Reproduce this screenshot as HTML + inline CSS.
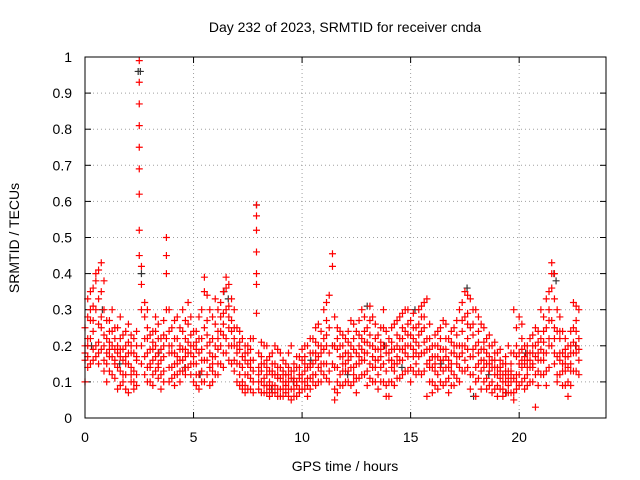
<!DOCTYPE html>
<html><head><meta charset="utf-8"><style>
body{margin:0;background:#fff;}
svg{display:block;font-family:"Liberation Sans",sans-serif;}
</style></head><body>
<svg id="c" width="640" height="480">
<text x="345" y="32" text-anchor="middle" font-size="14">Day 232 of 2023, SRMTID for receiver cnda</text>
<text x="345" y="471" text-anchor="middle" font-size="14">GPS time / hours</text>
<text transform="translate(19,238) rotate(-90)" text-anchor="middle" font-size="14">SRMTID / TECUs</text>
<g id="grid"></g>
<g id="ticks"></g>
<g id="black"></g>
<g id="red"></g>
<rect x="85" y="57" width="521" height="361" fill="none" stroke="#000"/>
</svg>
<script>
const xTicks=[0,5,10,15,20];
const yTicks=[0,0.1,0.2,0.3,0.4,0.5,0.6,0.7,0.8,0.9,1];
const yTickLabels=["0","0.1","0.2","0.3","0.4","0.5","0.6","0.7","0.8","0.9","1"];
const redT=[0,0.25,0.5,0.75,1,1.25,1.5,1.75,2,2.25,2.5,2.6,2.75,3,3.25,3.5,3.75,4,4.25,4.5,4.75,5,5.25,5.5,5.75,6,6.25,6.5,6.75,7,7.25,7.5,7.75,7.9,8,8.25,8.5,8.75,9,9.25,9.5,9.75,10,10.25,10.5,10.75,11,11.25,11.4,11.5,11.75,12,12.25,12.5,12.75,13,13.25,13.5,13.75,14,14.25,14.5,14.75,15,15.25,15.5,15.75,16,16.25,16.5,16.75,17,17.25,17.5,17.75,18,18.25,18.5,18.75,19,19.25,19.5,19.75,20,20.25,20.5,20.75,21,21.25,21.5,21.75,22,22.25,22.5,22.75];
const redV=[[.18,.2,.1,.16,.25],[.3,.35,.22,.15,.27],[.4,.38,.3,.2,.17],[.43,.35,.25,.19,.28],[.22,.15,.1,.27,.18],[.2,.12,.3,.17,.24],[.14,.08,.2,.25,.18],[.23,.16,.1,.12,.19],[.21,.07,.15,.26,.18],[.13,.18,.22,.1,.08],
[.99,.93,.87,.81,.75,.69,.62,.52,.45],[.42,.37,.3,.2,.15],[.28,.32,.17,.12,.22],[.19,.15,.23,.1,.14],[.2,.24,.13,.17,.28],[.16,.12,.22,.19,.08],[.5,.45,.4,.3,.22],[.25,.18,.14,.2,.11],[.17,.22,.15,.28,.12],[.3,.19,.13,.24,.16],[.32,.26,.18,.14,.21],[.2,.15,.1,.17,.24],[.28,.12,.18,.08,.22],[.39,.35,.25,.16,.1],[.3,.21,.14,.09,.18],[.26,.2,.12,.17,.33],[.32,.28,.24,.15,.2],[.39,.36,.3,.22,.18],[.33,.27,.2,.15,.24],[.25,.2,.15,.1,.18],[.22,.14,.1,.17,.08],[.18,.12,.08,.15,.2],[.16,.1,.07,.13,.22],[.59,.56,.52,.46,.4,.37,.29],[.18,.12,.08,.14,.1],[.2,.11,.07,.15,.09],[.13,.08,.1,.17,.06],[.15,.09,.12,.07,.2],[.11,.08,.14,.06,.18],[.12,.09,.15,.07,.1],[.2,.13,.08,.11,.05],[.1,.14,.06,.17,.09],[.16,.12,.08,.19,.1],[.2,.14,.09,.11,.06],[.18,.12,.22,.1,.15],[.26,.2,.14,.1,.17],[.3,.22,.15,.12,.19],[.34,.25,.18,.1,.13],[.455,.42,.2,.15],[.28,.2,.14,.08,.05],[.24,.17,.12,.09,.2],[.22,.15,.1,.18,.13],[.27,.2,.14,.09,.17],[.24,.18,.11,.15,.07],[.3,.22,.16,.12,.19],[.25,.18,.13,.09,.21],[.28,.2,.14,.1,.17],[.23,.16,.12,.08,.19],[.3,.2,.15,.1,.25],[.22,.16,.1,.06,.18],[.26,.19,.13,.09,.15],[.28,.22,.16,.11,.19],[.3,.24,.18,.13,.2],[.27,.2,.14,.1,.23],[.25,.18,.12,.15,.21],[.31,.24,.18,.12,.28],[.33,.22,.15,.06,.19],[.2,.14,.1,.07,.17],[.24,.17,.12,.08,.2],[.27,.19,.13,.09,.16],[.22,.16,.11,.14,.07],[.25,.18,.12,.09,.2],[.3,.2,.14,.1,.17],[.35,.28,.2,.13,.16],[.33,.25,.17,.12,.08],[.3,.2,.14,.1,.06],[.26,.19,.13,.08,.16],[.22,.15,.11,.08,.18],[.2,.14,.1,.07,.16],[.18,.12,.09,.06,.14],[.15,.1,.08,.12,.06],[.2,.13,.09,.07,.11],[.3,.18,.11,.07,.05],[.28,.18,.12,.09,.15],[.2,.15,.11,.17,.08],[.22,.18,.14,.1,.16],[.25,.17,.12,.03,.2],[.3,.22,.16,.12,.19],[.33,.25,.18,.13,.09],[.43,.4,.36,.27,.2],[.3,.24,.17,.12,.1],[.24,.18,.13,.09,.15],[.2,.14,.1,.06,.17],[.32,.25,.18,.13,.21],[.3,.22,.16,.12,.19]];
const redT2=[0.125,0.375,0.625,0.875,1.125,1.375,1.625,1.875,2.125,2.375,2.875,3.125,3.375,3.625,3.875,4.125,4.375,4.625,4.875,5.125,5.375,5.625,5.875,6.125,6.375,6.625,6.875,7.125,7.375,7.625,8.125,8.375,8.625,8.875,9.125,9.375,9.625,9.875,10.125,10.375,10.625,10.875,11.125,11.625,11.875,12.125,12.375,12.625,12.875,13.125,13.375,13.625,13.875,14.125,14.375,14.625,14.875,15.125,15.375,15.625,15.875,16.125,16.375,16.625,16.875,17.125,17.375,17.625,17.875,18.125,18.375,18.625,18.875,19.125,19.375,19.625,19.875,20.125,20.375,20.625,20.875,21.125,21.375,21.625,21.875,22.125,22.375,22.625];
const redV2=[[.28,.22,.17,.14,.33,.2],[.36,.31,.24,.19,.16,.27],[.41,.33,.26,.21,.15,.18],[.38,.3,.23,.2,.16,.13],[.27,.21,.17,.13,.24,.19],[.25,.19,.15,.11,.22,.16],[.22,.17,.13,.09,.19,.28],[.2,.15,.12,.08,.17,.24],[.23,.18,.14,.1,.2,.12],[.2,.16,.12,.09,.24,.17],[.3,.22,.18,.14,.1,.25],[.24,.19,.16,.12,.21,.09],[.22,.18,.15,.11,.26,.14],[.2,.17,.13,.1,.23,.27],[.3,.24,.18,.14,.2,.1],[.22,.18,.15,.12,.09,.27],[.25,.2,.16,.13,.19,.1],[.27,.22,.17,.14,.12,.19],[.28,.23,.18,.15,.12,.2],[.24,.19,.15,.12,.09,.21],[.3,.22,.16,.13,.1,.19],[.34,.27,.2,.16,.12,.23],[.28,.22,.17,.13,.1,.15],[.3,.24,.19,.15,.22,.12],[.35,.29,.23,.18,.26,.14],[.37,.31,.25,.2,.28,.16],[.3,.25,.2,.16,.22,.13],[.24,.19,.15,.12,.21,.09],[.2,.16,.12,.09,.18,.07],[.19,.14,.11,.08,.16,.22],[.17,.13,.1,.07,.15,.21],[.16,.12,.09,.07,.14,.2],[.15,.12,.09,.07,.13,.18],[.14,.11,.08,.06,.12,.19],[.13,.1,.08,.06,.12,.16],[.14,.1,.08,.06,.12,.18],[.15,.11,.08,.06,.13,.1],[.14,.11,.08,.07,.12,.17],[.17,.13,.1,.08,.15,.2],[.18,.14,.11,.08,.15,.22],[.21,.16,.12,.09,.18,.25],[.24,.18,.13,.1,.2,.15],[.27,.2,.15,.11,.23,.32],[.25,.19,.14,.1,.22,.07],[.23,.17,.13,.09,.2,.15],[.24,.18,.13,.1,.21,.16],[.26,.19,.14,.1,.22,.12],[.27,.2,.15,.11,.23,.17],[.28,.21,.16,.12,.24,.18],[.27,.2,.15,.11,.23,.31],[.26,.19,.14,.1,.22,.16],[.25,.19,.14,.1,.21,.17],[.24,.18,.13,.09,.2,.06],[.25,.19,.14,.1,.21,.16],[.27,.2,.15,.11,.23,.17],[.29,.22,.16,.12,.25,.19],[.3,.23,.17,.13,.26,.2],[.29,.22,.17,.13,.25,.19],[.3,.23,.17,.13,.26,.2],[.32,.25,.18,.13,.28,.21],[.26,.19,.14,.1,.22,.16],[.23,.17,.13,.09,.2,.15],[.25,.19,.14,.1,.22,.16],[.26,.19,.14,.1,.22,.17],[.24,.18,.13,.09,.21,.15],[.27,.2,.15,.11,.23,.17],[.32,.24,.18,.13,.27,.2],[.34,.26,.19,.14,.29,.22],[.3,.23,.17,.12,.26,.19],[.28,.21,.15,.11,.24,.18],[.25,.19,.14,.1,.21,.16],[.23,.17,.13,.09,.2,.15],[.21,.16,.12,.08,.18,.14],[.19,.14,.11,.08,.16,.13],[.17,.13,.1,.07,.15,.12],[.18,.13,.1,.07,.15,.12],[.25,.17,.12,.08,.2,.1],[.26,.19,.14,.1,.22,.16],[.2,.16,.12,.09,.18,.14],[.23,.18,.14,.1,.2,.15],[.24,.18,.13,.09,.21,.16],[.28,.21,.16,.12,.24,.18],[.35,.27,.2,.14,.3,.22],[.4,.33,.25,.18,.22,.15],[.28,.22,.16,.12,.24,.18],[.22,.17,.13,.09,.19,.15],[.24,.18,.13,.09,.2,.15],[.31,.24,.18,.13,.27,.2]];
const blackT=[0.3,0.8,1.6,2.45,2.55,2.6,3.4,4.6,5.3,6.4,6.6,7.9,8.6,9.6,10.4,11.4,12.1,13.0,13.8,14.6,15.2,16.4,17.6,17.9,18.6,19.4,20.3,21.6,21.7,22.6];
const blackV=[.2,.3,.15,.96,.96,.4,.18,.14,.12,.35,.33,.59,.08,.1,.16,.2,.12,.31,.2,.14,.3,.15,.36,.06,.12,.07,.18,.4,.38,.2];
const X0=85,X1=606,Y0=418,Y1=57,XMAX=24;
const sx=v=>X0+v/XMAX*(X1-X0);
const sy=v=>Y0-v*(Y0-Y1);
const NS="http://www.w3.org/2000/svg";
function mk(tag,attrs,parent){const e=document.createElementNS(NS,tag);for(const k in attrs)e.setAttribute(k,attrs[k]);parent.appendChild(e);return e;}
const grid=document.getElementById('grid'),ticks=document.getElementById('ticks');
xTicks.forEach(t=>{const x=sx(t);
 if(t>0){const g=mk('line',{x1:x,x2:x,y1:Y1,y2:Y0,stroke:'#a0a0a0','stroke-dasharray':'1,3'},grid);}
 mk('line',{x1:x,x2:x,y1:Y0,y2:Y0-6,stroke:'#000'},ticks);mk('line',{x1:x,x2:x,y1:Y1,y2:Y1+6,stroke:'#000'},ticks);
 const l=mk('text',{x:x,y:442,'text-anchor':'middle','font-size':14},ticks);l.textContent=t;
 });
yTicks.forEach((t,i)=>{const y=sy(t);
 if(t>0&&t<1){const g=mk('line',{x1:X0,x2:X1,y1:y,y2:y,stroke:'#a0a0a0','stroke-dasharray':'1,3'},grid);}
 mk('line',{x1:X0,x2:X0+6,y1:y,y2:y,stroke:'#000'},ticks);mk('line',{x1:X1,x2:X1-6,y1:y,y2:y,stroke:'#000'},ticks);
 const l=mk('text',{x:72,y:y+5,'text-anchor':'end','font-size':14},ticks);l.textContent=yTickLabels[i];
 });
function plus(g,t,v,c){const x=sx(t),y=sy(v);
 const p=mk('path',{d:`M${x-3.5},${y}H${x+3.5}M${x},${y-3.5}V${y+3.5}`,stroke:c,'stroke-width':1.2,fill:'none'},g);
 }
const bg=document.getElementById('black');
blackT.forEach((t,i)=>plus(bg,t,blackV[i],'#333'));
const rg=document.getElementById('red');
redT.forEach((t,i)=>redV[i].forEach(v=>plus(rg,t,v,'#ff0000')));
redT2.forEach((t,i)=>redV2[i].forEach(v=>plus(rg,t,v,'#ff0000')));
</script>
</body></html>
